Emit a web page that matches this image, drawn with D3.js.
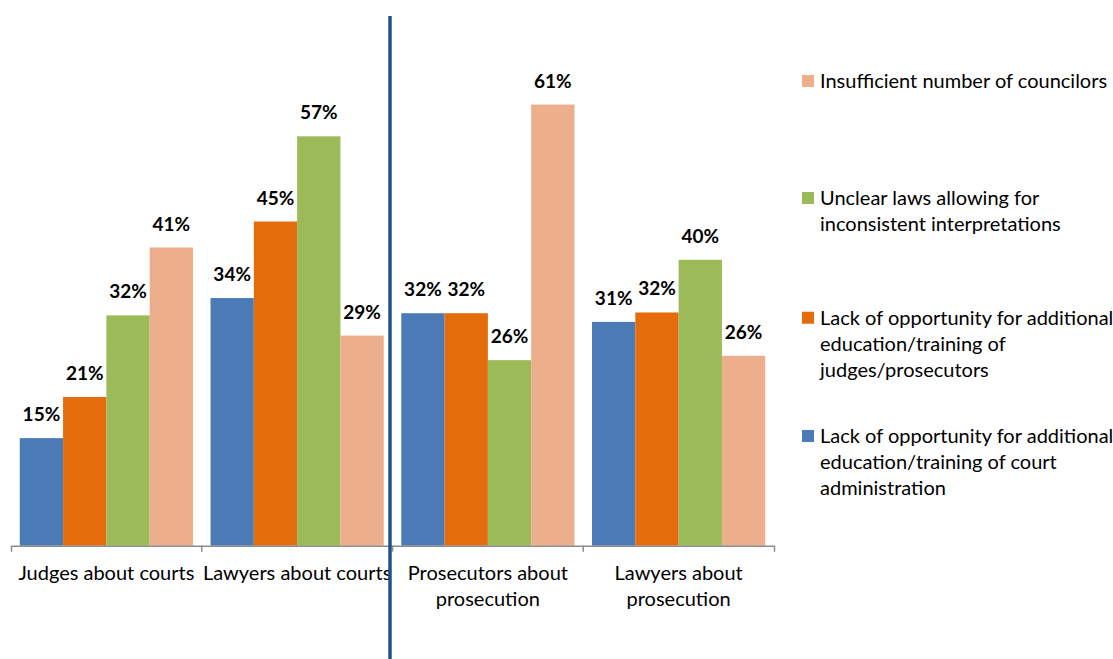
<!DOCTYPE html>
<html>
<head>
<meta charset="utf-8">
<script src="https://cdn.jsdelivr.net/npm/d3@7"></script>
<style>
  html, body { margin: 0; padding: 0; background: #fff; }
  svg { display: block; font-family: Lato, "Open Sans", sans-serif; }
</style>
</head>
<body>
<svg id="chart" width="1113" height="659"></svg>
<script>
// ---- data ----
const categories = [
  "Judges about courts",
  "Lawyers about courts",
  "Prosecutors about\nprosecution",
  "Lawyers about\nprosecution"
];
const seriesNames = [
  "Lack of opportunity for additional\neducation/training of court\nadministration",
  "Lack of opportunity for additional\neducation/training of\njudges/prosecutors",
  "Unclear laws allowing for\ninconsistent interpretations",
  "Insufficient number of councilors"
];
const courtAdminTraining   = [14.9, 34.3, 32.2, 31.0];
const judgesTraining       = [20.6, 44.9, 32.2, 32.3];
const unclearLaws          = [31.9, 56.7, 25.7, 39.6];
const insufficientCouncils = [41.3, 29.1, 61.1, 26.3];
const seriesValues = [courtAdminTraining, judgesTraining, unclearLaws, insufficientCouncils];
const colors = ["#4a7bb7", "#e46c0a", "#9bbb59", "#edae8b"];
const legendOrder = [3, 2, 1, 0];

// ---- layout ----
const svg = d3.select("#chart");
const left = 11, right = 774, baseY = 545.7, topY = 40.3;

const x0 = d3.scaleBand().domain(categories).range([left, right]).padding(0);
const gw = x0.bandwidth();
const x1 = d3.scaleBand().domain(d3.range(seriesNames.length))
  .range([gw * 0.046, gw * 0.954]).padding(0);
const y = d3.scaleLinear().domain([0, 70]).range([baseY, topY]);
const fmt = v => d3.format(".0f")(v) + "%";

// bars
const groups = svg.append("g").selectAll("g")
  .data(categories).join("g")
  .attr("transform", d => `translate(${x0(d)},0)`);

groups.selectAll("rect")
  .data((c, ci) => seriesValues.map((vals, si) => ({ si, v: vals[ci] })))
  .join("rect")
  .attr("x", d => x1(d.si))
  .attr("width", x1.bandwidth())
  .attr("y", d => y(d.v))
  .attr("height", d => y(0) - y(d.v))
  .attr("fill", d => colors[d.si]);

groups.selectAll("text.val")
  .data((c, ci) => seriesValues.map((vals, si) => ({ si, v: vals[ci] })))
  .join("text")
  .attr("class", "val")
  .attr("x", d => x1(d.si) + x1.bandwidth() / 2)
  .attr("y", d => y(d.v) - 17)
  .attr("text-anchor", "middle")
  .attr("font-size", 19)
  .attr("font-weight", "bold")
  .attr("fill", "#000")
  .text(d => fmt(d.v));

// axis
const axis = d3.axisBottom(x0).tickSizeInner(0).tickSizeOuter(6).tickFormat("");
const ag = svg.append("g").attr("transform", `translate(0,${baseY})`).call(axis);
ag.select(".domain").attr("stroke", "#8c8c8c").attr("stroke-width", 1.5);
ag.selectAll(".tick").remove();
ag.selectAll("line.bound")
  .data(categories.slice(1)).join("line")
  .attr("class", "bound")
  .attr("x1", d => x0(d)).attr("x2", d => x0(d))
  .attr("y1", 0).attr("y2", 6)
  .attr("stroke", "#8c8c8c").attr("stroke-width", 1.5);

// category labels
const cl = svg.append("g").selectAll("text")
  .data(categories).join("text")
  .attr("x", d => x0(d) + gw / 2)
  .attr("y", 580)
  .attr("text-anchor", "middle")
  .attr("font-size", 20)
  .attr("fill", "#000");
cl.selectAll("tspan")
  .data(d => d.split("\n")).join("tspan")
  .attr("x", function () { return this.parentNode.getAttribute("x"); })
  .attr("dy", (d, i) => i === 0 ? 0 : 26)
  .text(d => d);

// divider
svg.append("line")
  .attr("x1", 390).attr("x2", 390)
  .attr("y1", 16).attr("y2", 659)
  .attr("stroke", "#24508a").attr("stroke-width", 3.5);

// legend
const legendTops = [81, 198, 317.7, 436];
const lg = svg.append("g").selectAll("g")
  .data(legendOrder).join("g")
  .attr("transform", (d, i) => `translate(802,${legendTops[i]})`);
lg.append("rect")
  .attr("x", 0).attr("y", -6)
  .attr("width", 12).attr("height", 12)
  .attr("fill", d => colors[d]);
const lt = lg.append("text")
  .attr("x", 18).attr("y", 7)
  .attr("font-size", 20)
  .attr("fill", "#000");
lt.selectAll("tspan")
  .data(d => seriesNames[d].split("\n")).join("tspan")
  .attr("x", 18)
  .attr("dy", (d, i) => i === 0 ? 0 : 26)
  .text(d => d);
</script>
</body>
</html>
